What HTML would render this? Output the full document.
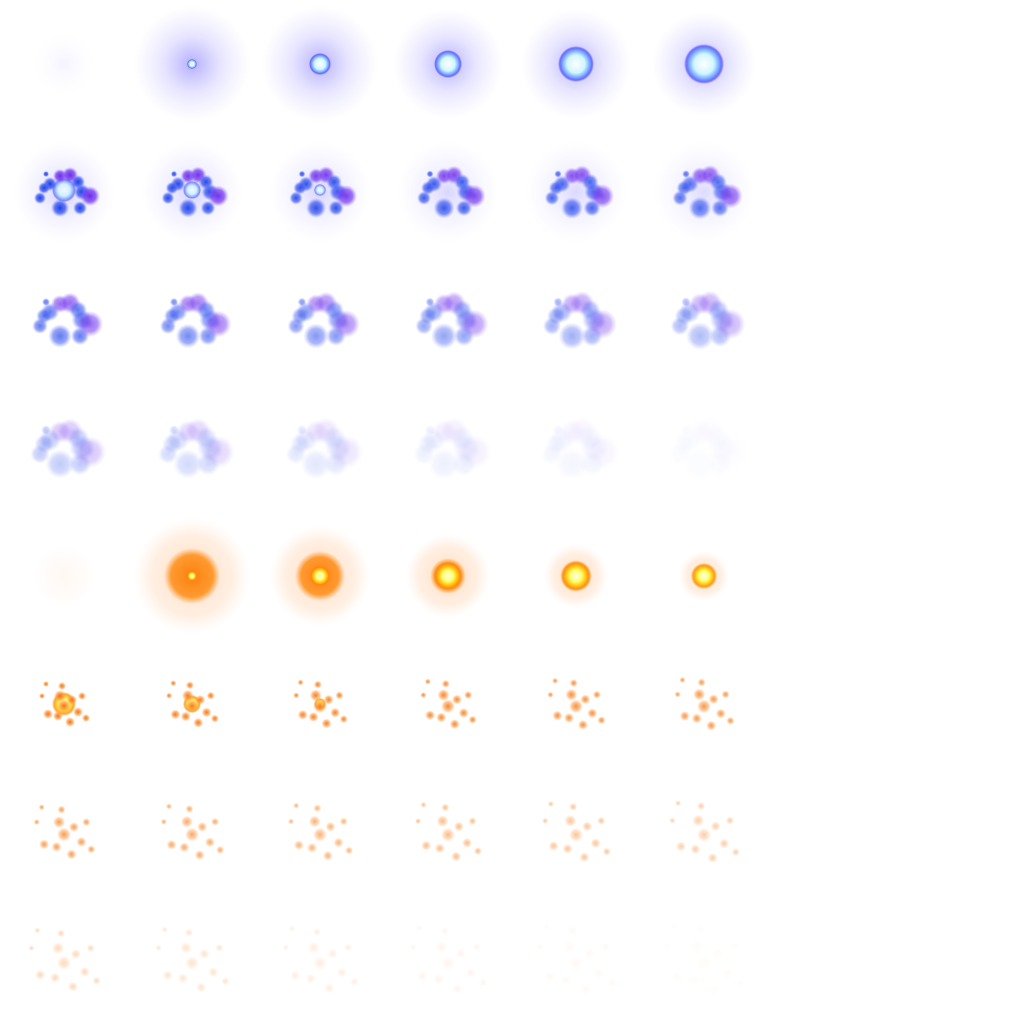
<!DOCTYPE html>
<html><head><meta charset="utf-8"><style>
html,body{margin:0;padding:0;background:#fff;width:1024px;height:1024px;overflow:hidden}
svg{display:block}
</style></head><body>
<svg id="sheet" width="1024" height="1024" viewBox="0 0 1024 1024" xmlns="http://www.w3.org/2000/svg">
<defs>
<radialGradient id="bhalo"><stop offset="0" stop-color="#5a4cff" stop-opacity="0.45"/><stop offset="0.5" stop-color="#7a70ff" stop-opacity="0.18"/><stop offset="1" stop-color="#9a90ff" stop-opacity="0"/></radialGradient>
<radialGradient id="bcore"><stop offset="0" stop-color="#ffffff"/><stop offset="0.5" stop-color="#d0f6ff"/><stop offset="0.78" stop-color="#70a0ff"/><stop offset="0.9" stop-color="#4a40ff" stop-opacity="0.7"/><stop offset="1" stop-color="#4030ff" stop-opacity="0"/></radialGradient>
<radialGradient id="bblob"><stop offset="0" stop-color="#1c40e8"/><stop offset="0.6" stop-color="#3f5cf0" stop-opacity="0.8"/><stop offset="1" stop-color="#6a7cff" stop-opacity="0"/></radialGradient>
<radialGradient id="pblob"><stop offset="0" stop-color="#6a2be8"/><stop offset="0.6" stop-color="#7a40f0" stop-opacity="0.8"/><stop offset="1" stop-color="#9a70ff" stop-opacity="0"/></radialGradient>
<radialGradient id="ohalo"><stop offset="0" stop-color="#ff9a40" stop-opacity="0.35"/><stop offset="0.7" stop-color="#ffb070" stop-opacity="0.2"/><stop offset="1" stop-color="#ffc090" stop-opacity="0"/></radialGradient>
<radialGradient id="odisk"><stop offset="0" stop-color="#ff8010"/><stop offset="0.75" stop-color="#ff9a30"/><stop offset="1" stop-color="#ffa040" stop-opacity="0"/></radialGradient>
<radialGradient id="ocore"><stop offset="0" stop-color="#ffffff"/><stop offset="0.4" stop-color="#ffff60"/><stop offset="0.8" stop-color="#ffa000"/><stop offset="1" stop-color="#ff6000" stop-opacity="0"/></radialGradient>
<radialGradient id="odot"><stop offset="0" stop-color="#f07010"/><stop offset="0.6" stop-color="#ff9a40" stop-opacity="0.7"/><stop offset="1" stop-color="#ffb070" stop-opacity="0"/></radialGradient>
</defs>
</svg>
<script>
const blueHalo=[30,58,58,55,55,52];
const blueCore=[0,5,11,14,18,20];
const blueBlobFade=[1,0.95,0.9,0.85,0.8,0.75,0.7,0.62,0.55,0.48,0.42,0.36,0.28,0.2,0.13,0.08,0.05,0.02];
const orangeHalo=[30,58,50,42,32,25];
const orangeDisk=[0,28,25,18,16,10];
const orangeCore=[0,5,10,14,15,13];
const dotFade=[1,0.95,0.9,0.85,0.8,0.75,0.7,0.62,0.55,0.48,0.42,0.36,0.28,0.2,0.13,0.08,0.05,0.03];
const blobs=[[-14,-8,7,'b'],[-4,-16,7,'p'],[6,-17,8,'p'],[14,-10,7,'b'],[18,0,8,'b'],[-20,-4,6,'b'],[-24,6,6,'b'],[-4,16,9,'b'],[16,16,7,'b'],[-18,-18,3,'b'],[26,4,10,'p']];
const dots=[[-18,-20,3],[-4,-8,6],[0,2,7],[-6,12,5],[8,-4,5],[14,8,5],[18,-8,4],[-16,10,5],[6,18,5],[22,14,4],[-2,-18,4],[-22,-8,3]];
const svg=document.getElementById('sheet');
const NS='http://www.w3.org/2000/svg';
function circ(cx,cy,r,fill,op,name){const c=document.createElementNS(NS,'circle');c.setAttribute('cx',cx);c.setAttribute('cy',cy);c.setAttribute('r',r);c.setAttribute('fill','url(#'+fill+')');c.setAttribute('opacity',op);


svg.appendChild(c);}
function cell(i){return [64+128*(i%6),64+128*Math.floor(i/6)];}
for(let i=0;i<6;i++){const [x,y]=cell(i);circ(x,y,blueHalo[i],'bhalo',i==0?0.15:1,'blue-halo');if(blueCore[i])circ(x,y,blueCore[i],'bcore',1,'blue-core');}
for(let k=0;k<blueBlobFade.length;k++){const [x,y]=cell(6+k);const f=blueBlobFade[k];
 if(k<6)circ(x,y,50,'bhalo',0.6*f,'blue-halo');
 if(k<3)circ(x,y-2,12-k*3,'bcore',0.8,'blue-core');
 blobs.forEach(b=>circ(x+b[0],y+b[1],b[2]*(1+k*0.05),b[3]=='p'?'pblob':'bblob',f,'blue-blob'));}
for(let i=0;i<6;i++){const [x,y]=cell(24+i);circ(x,y,orangeHalo[i],'ohalo',i==0?0.2:1,'orange-halo');if(orangeDisk[i])circ(x,y,orangeDisk[i],'odisk',1,'orange-disk');if(orangeCore[i])circ(x,y,orangeCore[i],'ocore',1,'orange-core');}
for(let k=0;k<dotFade.length;k++){const [x,y]=cell(30+k);const f=dotFade[k];
 if(k<3)circ(x,y,12-k*3,'ocore',0.9,'orange-core');
 dots.forEach(d=>circ(x+d[0]*(1+k*0.04),y+d[1]*(1+k*0.04),d[2],'odot',f,'orange-dot'));}
</script>
</body></html>
